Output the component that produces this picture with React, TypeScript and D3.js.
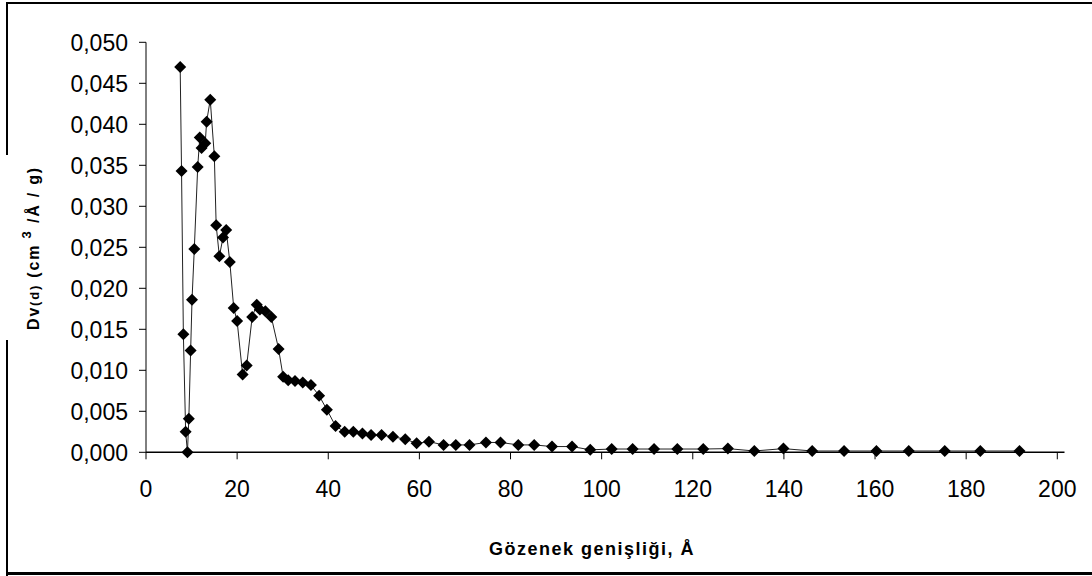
import React from "react";
import * as d3 from "d3";

const poreWidth: number[] = [
  7.5, 7.8, 8.2, 8.7, 9.1, 9.4, 9.8, 10.1, 10.6, 11.35, 11.8, 12.2, 13.0, 13.3, 14.1,
  15.0, 15.4, 16.1, 16.9, 17.6, 18.4, 19.25, 20.0, 21.2, 22.1, 23.3, 24.3, 25.0, 26.2,
  27.5, 29.1, 30.1, 31.2, 32.7, 34.4, 36.2, 38.0, 39.7, 41.6, 43.6, 45.5, 47.5, 49.4,
  51.7, 54.2, 56.9, 59.4, 62.1, 65.3, 68.0, 71.0, 74.6, 77.8, 81.7, 85.2, 89.1, 93.5,
  97.5, 102.2, 106.8, 111.5, 116.6, 122.3, 127.7, 133.5, 139.9, 146.2, 153.2, 160.3,
  167.4, 175.3, 183.1, 191.7,
];

const dvValues: number[] = [
  0.047, 0.0343, 0.0144, 0.0025, 0.0, 0.0041, 0.0124, 0.0186, 0.0248, 0.0348, 0.0384,
  0.0371, 0.0377, 0.0403, 0.043, 0.0361, 0.0277, 0.0239, 0.0262, 0.0271, 0.0232, 0.0176,
  0.016, 0.0095, 0.0106, 0.0165, 0.018, 0.0174, 0.0172, 0.0165, 0.0126, 0.0092, 0.0088,
  0.0087, 0.0085, 0.0082, 0.0069, 0.0052, 0.0032, 0.0025, 0.0025, 0.0023, 0.0021, 0.0021,
  0.0019, 0.0016, 0.0011, 0.0013, 0.0009, 0.0009, 0.0009, 0.0012, 0.0012, 0.0009, 0.0009,
  0.0007, 0.0007, 0.0003, 0.0004, 0.0004, 0.0004, 0.0004, 0.0004, 0.00045, 0.00016,
  0.00045, 0.00016, 0.00016, 0.00016, 0.00016, 0.00016, 0.00016, 0.00016,
];

const xTicks: number[] = [0, 20, 40, 60, 80, 100, 120, 140, 160, 180, 200];
const yTicks: number[] = [0, 0.005, 0.01, 0.015, 0.02, 0.025, 0.03, 0.035, 0.04, 0.045, 0.05];

const xTitle = "Gözenek genişliği, Å";

export default function App() {
  const W = 1092;
  const H = 576;
  const x = d3.scaleLinear().domain([0, 200]).range([146, 1057.3]);
  const y = d3.scaleLinear().domain([0, 0.05]).range([452.3, 42.3]);
  const font = "'Liberation Sans', Arial, sans-serif";
  const fmt = (v: number) => v.toFixed(3).replace(".", ",");

  const pts = poreWidth.map((p, i) => [p, dvValues[i]] as [number, number]);
  const line = d3
    .line<[number, number]>()
    .x((d) => x(d[0]))
    .y((d) => y(d[1]));
  const r = 6;
  const diamond = `M0,${-r}L${r},0L0,${r}L${-r},0Z`;

  return (
    <svg
      width={W}
      height={H}
      style={{ position: "absolute", left: 0, top: 0, background: "#fff" }}
    >
      <rect x={0} y={0} width={W} height={H} fill="#fff" />
      {/* outer frame */}
      <path d={`M7,${H}V3H${W}`} fill="none" stroke="#000" strokeWidth={2} />
      <line x1={7} x2={W} y1={573.5} y2={573.5} stroke="#000" strokeWidth={3} />

      {/* y axis */}
      <line x1={146} x2={146} y1={y(0.05)} y2={y(0)} stroke="#000" strokeWidth={1} />
      {yTicks.map((t) => (
        <g key={"y" + t}>
          <line x1={139} x2={146} y1={y(t)} y2={y(t)} stroke="#000" strokeWidth={1} />
          <text
            x={128}
            y={y(t)}
            dy="0.36em"
            textAnchor="end"
            fontFamily={font}
            fontSize={23}
            fill="#000"
          >
            {fmt(t)}
          </text>
        </g>
      ))}

      {/* x axis */}
      <line x1={146} x2={1064.5} y1={y(0)} y2={y(0)} stroke="#000" strokeWidth={1.5} />
      {xTicks.map((t) => (
        <g key={"x" + t}>
          <line x1={x(t)} x2={x(t)} y1={y(0)} y2={y(0) + 7} stroke="#000" strokeWidth={1} />
          <text
            x={x(t)}
            y={496.5}
            textAnchor="middle"
            fontFamily={font}
            fontSize={23}
            fill="#000"
          >
            {t}
          </text>
        </g>
      ))}

      {/* series */}
      <path d={line(pts) || ""} fill="none" stroke="#222" strokeWidth={1} />
      {pts.map((d, i) => (
        <path
          key={"m" + i}
          d={diamond}
          transform={`translate(${x(d[0])},${y(d[1])})`}
          fill="#000"
        />
      ))}

      {/* y axis title */}
      <rect x={4} y={155} width={46} height={185} fill="#fff" />
      <text
        transform="translate(39,248) rotate(-90)"
        textAnchor="middle"
        fontFamily={font}
        fontWeight="bold"
        fontSize={16}
        letterSpacing={1.8}
        fill="#000"
      >
        Dv<tspan fontSize={13}>(d)</tspan> (cm
        <tspan fontSize={13} dy={-8}> 3</tspan>
        <tspan dy={8}> /Å / g)</tspan>
      </text>

      {/* x axis title */}
      <text
        x={592}
        y={555}
        textAnchor="middle"
        fontFamily={font}
        fontWeight="bold"
        fontSize={18}
        letterSpacing={1.5}
        fill="#000"
      >
        {xTitle}
      </text>
    </svg>
  );
}
